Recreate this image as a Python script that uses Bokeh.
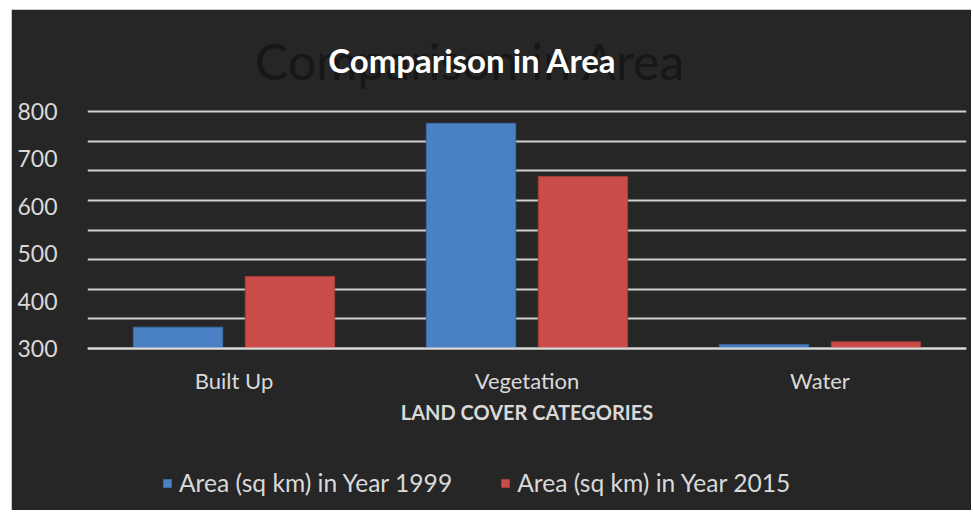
from bokeh.plotting import figure
from bokeh.models import (Range1d, FactorRange, FixedTicker, Label, Legend, LegendItem,
                          ColumnDataSource, Spacer)
from bokeh.layouts import row, column
from bokeh.transform import dodge
from bokeh.embed import file_html
from bokeh.resources import INLINE

# ---- data ----
categories = ["Built Up", "Vegetation", "Water"]
area_1999 = [345, 775, 308]
area_2015 = [452, 663, 314]
series_names = ["Area (sq km) in Year 1999", "Area (sq km) in Year 2015"]
y_ticks = [300, 400, 500, 600, 700, 800]
title_text = "Comparison in Area"
x_title = "LAND COVER CATEGORIES"

BG = "#262626"
TXT = "#d9d9d9"
FONT = "Lato"
BLUE = "#4a80c4"
RED = "#c94c48"

y_min, y_max = y_ticks[0], y_ticks[-1]
# the plot frame covers the whole panel: 237 px hold the 300..800 data span,
# 328 px above the baseline (title room) and 160 px below it (axis labels, legend)
PX = (y_max - y_min) / 237.0
y_view = (y_min - 160 * PX, y_min + 328 * PX)

src = ColumnDataSource(dict(cat=categories, a1999=area_1999, a2015=area_2015,
                            base=[y_min] * len(categories)))

p = figure(width=960, height=501, x_range=FactorRange(*categories),
           y_range=Range1d(*y_view), output_backend="svg",
           toolbar_location=None, min_border_left=76, min_border_right=5,
           min_border_top=11, min_border_bottom=2)
p.background_fill_color = BG
p.border_fill_color = BG
p.outline_line_color = BG
p.outline_line_width = 2
p.x_range.range_padding = 0

r1 = p.vbar(x=dodge("cat", -0.191, range=p.x_range), top="a1999", bottom="base",
            width=0.305, source=src, fill_color=BLUE, line_color="#3b6aa6", line_width=1)
r2 = p.vbar(x=dodge("cat", 0.191, range=p.x_range), top="a2015", bottom="base",
            width=0.305, source=src, fill_color=RED, line_color="#a53d3a", line_width=1)

# grid: 9 evenly spaced lines between 300 and 800
p.xgrid.grid_line_color = None
p.ygrid.ticker = FixedTicker(ticks=[y_min + i * (y_max - y_min) / 8 for i in range(9)])
p.ygrid.grid_line_color = "#d0d0d0"
p.ygrid.grid_line_width = 2

# y axis
p.yaxis.ticker = FixedTicker(ticks=y_ticks)
p.yaxis.axis_line_color = None
p.yaxis.major_tick_line_color = None
p.yaxis.minor_tick_line_color = None
p.yaxis.major_label_text_font = FONT
p.yaxis.major_label_text_font_size = "23px"
p.yaxis.major_label_text_color = TXT
p.yaxis.major_label_standoff = 24

# x axis drawn at the 300 baseline
p.xaxis.fixed_location = y_min
p.xaxis.axis_line_color = "#d9d9d9"
p.xaxis.axis_line_width = 2
p.xaxis.major_tick_line_color = None
p.xaxis.minor_tick_line_color = None
p.xaxis.major_label_text_font = FONT
p.xaxis.major_label_text_font_size = "22px"
p.xaxis.major_label_text_color = TXT
p.xaxis.major_label_standoff = 12
p.xaxis.axis_label = x_title
p.xaxis.axis_label_text_font = FONT
p.xaxis.axis_label_text_font_style = "bold"
p.xaxis.axis_label_text_font_size = "20px"
p.xaxis.axis_label_text_color = TXT
p.xaxis.axis_label_standoff = 3

# title shadow and title
shadow = Label(x=383, y=448, x_units="screen", y_units="screen", text=title_text,
               text_font=FONT, text_font_size="50px",
               text_color="#171717", text_align="center", text_baseline="middle",
               level="underlay")
p.add_layout(shadow)
title = Label(x=385, y=449, x_units="screen", y_units="screen", text=title_text,
              text_font=FONT, text_font_size="33px", text_font_style="bold",
              text_color="#ffffff", text_align="center", text_baseline="middle")
p.add_layout(title)

legend = Legend(items=[LegendItem(label=series_names[0], renderers=[r1]),
                       LegendItem(label=series_names[1], renderers=[r2])],
                orientation="horizontal", location=(75, 11),
                background_fill_alpha=0, border_line_color=None,
                label_text_font=FONT, label_text_font_size="24.6px",
                label_text_color=TXT, glyph_width=10, glyph_height=10,
                label_standoff=7, spacing=48, padding=0, margin=0)
p.add_layout(legend)

layout = row(Spacer(width=11), column(Spacer(height=9), p))
open("out.html", "w").write(file_html(layout, INLINE))
